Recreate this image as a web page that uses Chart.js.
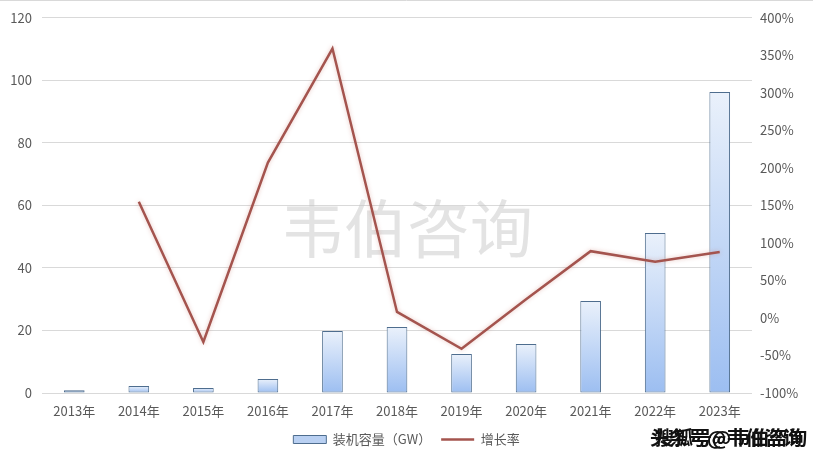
<!DOCTYPE html>
<html>
<head>
<meta charset="utf-8">
<script src="https://cdn.jsdelivr.net/npm/chart.js@4/dist/chart.umd.min.js"></script>
<style>
  html, body { margin: 0; padding: 0; background: #fff; }
  #wrap { width: 813px; height: 464px; }
</style>
</head>
<body>
<div id="wrap"><canvas id="chart" width="813" height="464"></canvas></div>
<script>
// data
const years = ["2013年", "2014年", "2015年", "2016年", "2017年", "2018年", "2019年", "2020年", "2021年", "2022年", "2023年"];
const capacity = [0.9, 2.2, 1.6, 4.5, 19.8, 21.1, 12.5, 15.7, 29.4, 51.2, 96.3];
const growth = [null, 1.55, -0.32, 2.07, 3.59, 0.08, -0.41, 0.25, 0.89, 0.75, 0.88];
const leftTicks = [0, 20, 40, 60, 80, 100, 120];
const rightTicks = [-1, -0.5, 0, 0.5, 1, 1.5, 2, 2.5, 3, 3.5, 4];

const labelColor = "#595959";
const lineColor = "#a4544e";
const font = { family: "'Noto Sans CJK SC', 'DejaVu Sans', sans-serif", size: 13 };

function barFill(context) {
  const chart = context.chart;
  const y = chart.scales.y;
  if (!y || !chart.chartArea || context.type !== "data") return "#bcd3f3";
  const top = y.getPixelForValue(context.raw);
  const bottom = y.getPixelForValue(0);
  if (!isFinite(top) || !isFinite(bottom) || bottom - top < 1) return "#bcd3f3";
  const g = chart.ctx.createLinearGradient(0, top, 0, bottom);
  g.addColorStop(0, "#eaf1fb");
  g.addColorStop(1, "#9cbef1");
  return g;
}

const extras = {
  id: "extras",
  beforeDatasetsDraw(chart) {
    const ctx = chart.ctx;
    ctx.save();
    ctx.strokeStyle = "#d9d9d9";
    ctx.lineWidth = 1;
    ctx.beginPath();
    ctx.moveTo(0, 0.5);
    ctx.lineTo(chart.width, 0.5);
    ctx.stroke();
    ctx.font = "63px 'Noto Sans CJK SC', sans-serif";
    ctx.fillStyle = "rgba(200,200,200,0.5)";
    ctx.textAlign = "center";
    ctx.textBaseline = "middle";
    ctx.fillText("韦伯咨询", 407, 228);
    ctx.restore();
  },
  beforeDatasetDraw(chart, args) {
    if (args.index === 1) {
      chart.ctx.save();
      chart.ctx.shadowColor = "rgba(205,130,120,0.45)";
      chart.ctx.shadowBlur = 4;
    }
  },
  afterDatasetDraw(chart, args) {
    if (args.index === 1) chart.ctx.restore();
  },
  afterDraw(chart) {
    const ctx = chart.ctx;
    ctx.save();
    ctx.font = "bold 19px 'Noto Sans CJK SC', sans-serif";
    ctx.textBaseline = "middle";
    ctx.textAlign = "left";
    ctx.lineWidth = 3;
    ctx.strokeStyle = "#fff";
    ctx.fillStyle = "#111";
    const marks = [["搜狐号@韦伯咨询", 655], ["头条号@韦伯咨询", 650]];
    marks.forEach(([t, x]) => ctx.strokeText(t, x, 438));
    marks.forEach(([t, x]) => ctx.fillText(t, x, 438));
    ctx.restore();
  }
};

new Chart(document.getElementById("chart"), {
  data: {
    labels: years,
    datasets: [
      {
        type: "bar",
        label: "装机容量（GW）",
        data: capacity,
        yAxisID: "y",
        backgroundColor: barFill,
        borderColor: "#4e6d8e",
        borderWidth: 1,
        borderSkipped: false,
        categoryPercentage: 1,
        barPercentage: 0.32,
        order: 2
      },
      {
        type: "line",
        label: "增长率",
        data: growth,
        yAxisID: "y1",
        borderColor: lineColor,
        backgroundColor: lineColor,
        borderWidth: 2.5,
        pointRadius: 0,
        tension: 0,
        spanGaps: false,
        order: 1
      }
    ]
  },
  options: {
    responsive: false,
    animation: false,
    layout: { padding: { top: 11, bottom: 8, left: 0, right: 0 } },
    plugins: {
      tooltip: { enabled: false },
      legend: {
        position: "bottom",
        labels: {
          color: labelColor,
          font: font,
          usePointStyle: true,
          pointStyleWidth: 33,
          boxHeight: 8,
          padding: 10,
          generateLabels(chart) {
            return [
              { text: "装机容量（GW）", fillStyle: "#b9d0f2", strokeStyle: "#4e6d8e", lineWidth: 1, pointStyle: "rect", datasetIndex: 0, fontColor: labelColor },
              { text: "增长率", fillStyle: lineColor, strokeStyle: lineColor, lineWidth: 2.5, pointStyle: "line", datasetIndex: 1, fontColor: labelColor }
            ];
          }
        }
      }
    },
    scales: {
      x: {
        grid: { display: false },
        border: { display: false },
        ticks: { color: labelColor, font: font, maxRotation: 0, padding: 2 },
        afterFit(scale) { scale.height = 30; }
      },
      y: {
        position: "left",
        min: 0,
        max: 120,
        afterBuildTicks(scale) { scale.ticks = leftTicks.map(v => ({ value: v })); },
        grid: { color: "#d9d9d9", drawTicks: false },
        border: { display: false },
        ticks: { color: labelColor, font: font, padding: 10 },
        afterFit(scale) { scale.width = 42; }
      },
      y1: {
        position: "right",
        min: -1,
        max: 4,
        afterBuildTicks(scale) { scale.ticks = rightTicks.map(v => ({ value: v })); },
        grid: { display: false, drawTicks: false },
        border: { display: false },
        ticks: {
          color: labelColor,
          font: font,
          padding: 8,
          callback: v => (v < 0 ? "-" : "") + Math.round(Math.abs(v) * 100) + "%"
        },
        afterFit(scale) { scale.width = 61; }
      }
    }
  },
  plugins: [extras]
});
</script>
</body>
</html>
